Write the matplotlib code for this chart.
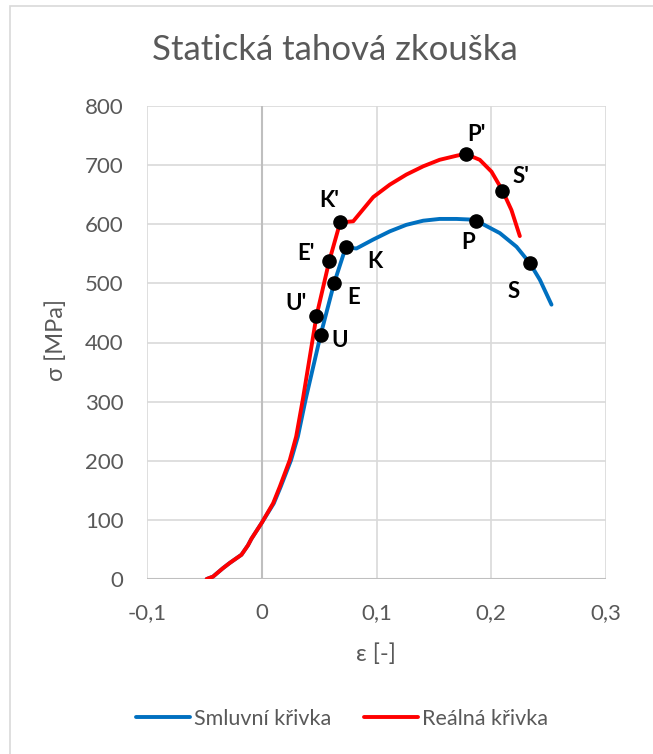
import matplotlib.pyplot as plt
from matplotlib.patches import Rectangle
from matplotlib.ticker import FuncFormatter

# smluvni (engineering) curve
eps_s = [-0.048, -0.0425, -0.034, -0.028, -0.0177, -0.012, -0.009, 0.0, 0.0105,
         0.0165, 0.0255, 0.0315, 0.0385, 0.0512, 0.063, 0.0732, 0.0825, 0.097,
         0.1116, 0.126, 0.1407, 0.155, 0.1697, 0.1813, 0.187, 0.2075, 0.222,
         0.2337, 0.2424, 0.2525]
sig_s = [0, 4, 18, 27, 41, 57, 68, 95, 128, 156, 201, 241, 306, 412, 500, 561,
         559, 574, 588, 599, 606, 609, 609, 608, 606, 585, 562, 534, 506, 464]

# realna (true) curve
eps_r = [-0.048, -0.0425, -0.034, -0.028, -0.0177, -0.012, -0.009, 0.0, 0.0099,
         0.0157, 0.0244, 0.030, 0.036, 0.0477, 0.0587, 0.0683, 0.0797, 0.0972,
         0.1116, 0.126, 0.1407, 0.155, 0.170, 0.1776, 0.190, 0.2002, 0.2098,
         0.2176, 0.2249]
sig_r = [0, 4, 18, 27, 41, 57, 68, 95, 128, 156, 201, 241, 306, 445, 537, 603,
         605, 646, 667, 684, 698, 709, 716, 719, 709, 689, 657, 624, 580]

# significant points
pt_names = ["U", "E", "K", "P", "S", "U'", "E'", "K'", "P'", "S'"]
pt_eps = [0.0512, 0.063, 0.0732, 0.187, 0.2337, 0.0477, 0.0587, 0.0683, 0.1776, 0.2098]
pt_sig = [412, 500, 561, 606, 534, 445, 537, 603, 719, 657]
pt_offs = [(14, -4), (14, -10), (21, -10), (-6, -16), (-12, -20),
           (-15, 9), (-17, 6), (-8, 16), (8, 14), (13, 10)]

plt.rcParams['font.family'] = ['Lato', 'DejaVu Sans']
grey = '#595959'

fig = plt.figure(figsize=(6.53, 7.54), dpi=100)
fig.patches.append(Rectangle((10 / 653, -0.01), 1.0, 1 - 6 / 754 + 0.01,
                             transform=fig.transFigure, fill=False,
                             edgecolor='#d9d9d9', linewidth=1.2))
ax = fig.add_axes([147 / 653, 175 / 754, 459 / 653, 473 / 754])

ax.plot(eps_s, sig_s, color='#0070c0', lw=2.8, label='Smluvní křivka',
        solid_capstyle='round', solid_joinstyle='round', zorder=3)
ax.plot(eps_r, sig_r, color='#ff0000', lw=2.8, label='Reálná křivka',
        solid_capstyle='round', solid_joinstyle='round', zorder=4)
ax.scatter(pt_eps, pt_sig, s=90, color='black', zorder=5)
for name, x, y, off in zip(pt_names, pt_eps, pt_sig, pt_offs):
    ax.annotate(name, (x, y), xytext=off, textcoords='offset points',
                ha='center', va='center', fontsize=16, fontweight='bold',
                color='black')

ax.set_xlim(-0.1, 0.3)
ax.set_ylim(0, 800)
ax.set_xticks([-0.1, 0, 0.1, 0.2, 0.3])
ax.set_yticks(range(0, 801, 100))
ax.xaxis.set_major_formatter(FuncFormatter(lambda v, p: f"{v:g}".replace('.', ',')))
ax.grid(True, color='#d9d9d9', lw=1.2)
ax.set_axisbelow(True)
for s in ax.spines.values():
    s.set_visible(False)
ax.axvline(0, color='#bfbfbf', lw=1.5, zorder=1)
ax.axhline(0, color='#bfbfbf', lw=1.5, zorder=1)
ax.tick_params(length=0, labelsize=16, labelcolor=grey)
ax.tick_params(axis='y', pad=17)
ax.tick_params(axis='x', pad=17)

fig.text(335 / 653, 1 - 50 / 754, 'Statická tahová zkouška', fontsize=25,
         color=grey, ha='center', va='center')
fig.text(376 / 653, 1 - 654 / 754, 'ε [-]', fontsize=17, color=grey,
         ha='center', va='center')
fig.text(56 / 653, 1 - 340 / 754, 'σ [MPa]', fontsize=17, color=grey,
         ha='center', va='center', rotation=90)

fig.legend(loc='center', bbox_to_anchor=(342 / 653, 1 - 719 / 754), ncol=2,
           frameon=False, fontsize=15.5, labelcolor=grey, handlelength=2.5,
           handletextpad=0.2, columnspacing=1.5)

fig.savefig('out.png', dpi=100)
